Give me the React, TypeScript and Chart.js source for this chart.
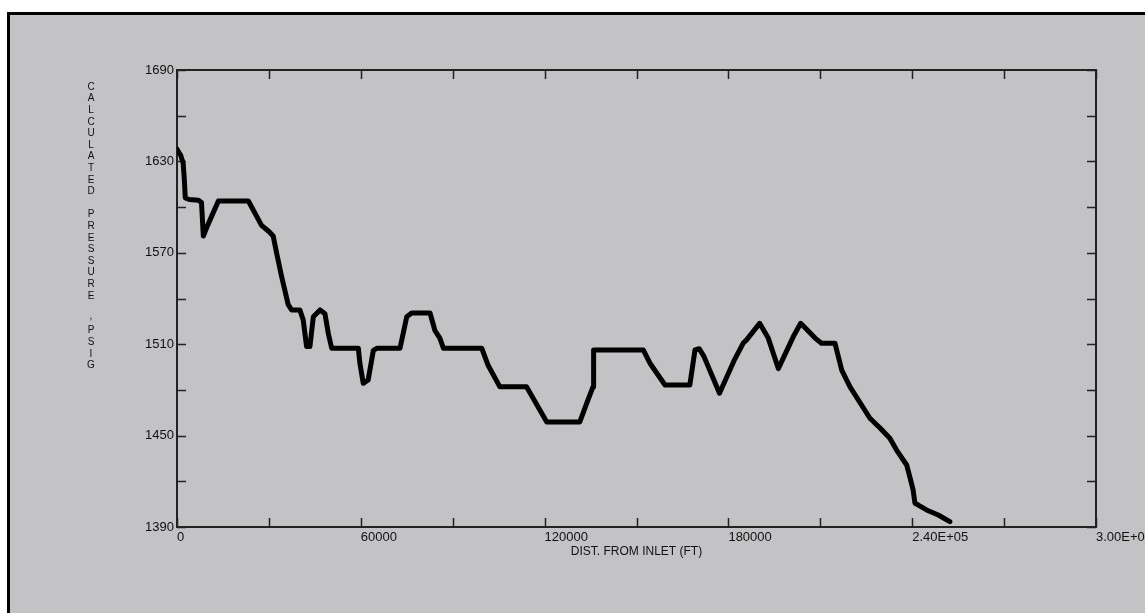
import React, { useEffect, useRef } from 'react';
import { Chart, registerables } from 'chart.js';

Chart.register(...registerables);

// Distance from inlet (ft)
const distFt = [
  0, 1200, 2000, 2400, 2700, 4000, 7000, 8000, 8600, 10000,
  13500, 23300, 27600, 30000, 31400, 32500, 34200, 36300, 37400, 40100,
  41200, 42300, 43400, 44500, 46700, 48300, 49400, 50500, 59200, 59700,
  60800, 62400, 64100, 65200, 72800, 75000, 76600, 82600, 84200, 85800,
  87000, 99500, 101600, 105400, 114100, 120700, 131500, 133700, 135800, 136000,
  152200, 154400, 159300, 167400, 169100, 170500, 172000, 177100, 181800, 184800,
  186000, 190200, 193000, 196300, 201200, 203600, 208300, 210400, 214800, 217000,
  219700, 226200, 229500, 232700, 234900, 238200, 239200, 240300, 240900, 242000,
  244700, 248500, 252300,
];

// Calculated pressure (psig)
const pressurePsig = [
  1638, 1634, 1629, 1618, 1606, 1605, 1604.5, 1603, 1581, 1588,
  1604, 1604, 1588, 1584, 1581, 1570, 1554, 1536, 1532.5, 1532.5,
  1526, 1508.5, 1508.5, 1528, 1532.5, 1530, 1517, 1507.3, 1507.3, 1497.5,
  1484.3, 1486.5, 1506, 1507.3, 1507.3, 1528, 1530.5, 1530.5, 1519, 1514,
  1507.3, 1507.3, 1496, 1482, 1482, 1459, 1459, 1471, 1482, 1506.2,
  1506.2, 1497.5, 1483.2, 1483.2, 1506.2, 1507, 1502, 1477.8, 1499, 1510.6,
  1513, 1523.7, 1514, 1494, 1515, 1523.7, 1514, 1510.6, 1510.6, 1493,
  1482, 1461.4, 1455, 1448.2, 1440.5, 1430.7, 1423, 1414.3, 1405.6, 1404.4,
  1401.2, 1397.9, 1393.5,
];

const xTickValues = [0, 30000, 60000, 90000, 120000, 150000, 180000, 210000, 240000, 270000, 300000];
const xTickLabels = ['0', '', '60000', '', '120000', '', '180000', '', '2.40E+05', '', '3.00E+05'];

const yTickValues = [1390, 1420, 1450, 1480, 1510, 1540, 1570, 1600, 1630, 1660, 1690];
const yTickLabels = ['1390', '', '1450', '', '1510', '', '1570', '', '1630', '', '1690'];

const xTitle = 'DIST. FROM INLET (FT)';
const yTitle = 'CALCULATED PRESSURE ,PSIG';

const FONT = '"Liberation Sans", Arial, sans-serif';
const GRAY = '#c3c2c4';

const framePlugin = {
  id: 'framePlugin',
  beforeDraw(chart: any) {
    const ctx = chart.ctx;
    const w = chart.width;
    const h = chart.height;
    ctx.save();
    ctx.fillStyle = '#ffffff';
    ctx.fillRect(0, 0, w, h);
    ctx.fillStyle = '#000000';
    ctx.fillRect(7, 12, w, h);
    ctx.fillStyle = GRAY;
    ctx.fillRect(10, 15, w, h);
    ctx.restore();
  },
  beforeDatasetsDraw(chart: any) {
    const ctx = chart.ctx;
    const { left, right, top, bottom } = chart.chartArea;
    const xs = chart.scales.x;
    const ys = chart.scales.y;
    ctx.save();
    ctx.strokeStyle = '#222222';
    ctx.lineWidth = 2;
    ctx.strokeRect(left, top, right - left, bottom - top);
    ctx.lineWidth = 1.5;
    ctx.beginPath();
    const tl = 9;
    xTickValues.forEach((v) => {
      const px = Math.round(xs.getPixelForValue(v)) + 0.5;
      ctx.moveTo(px, bottom);
      ctx.lineTo(px, bottom - tl);
      ctx.moveTo(px, top);
      ctx.lineTo(px, top + tl);
    });
    yTickValues.forEach((v) => {
      const py = Math.round(ys.getPixelForValue(v)) + 0.5;
      ctx.moveTo(left, py);
      ctx.lineTo(left + tl, py);
      ctx.moveTo(right, py);
      ctx.lineTo(right - tl, py);
    });
    ctx.stroke();

    // axis titles
    ctx.fillStyle = '#111111';
    ctx.textAlign = 'center';
    ctx.textBaseline = 'middle';
    ctx.font = `12px ${FONT}`;
    ctx.fillText(xTitle, (left + right) / 2, bottom + 25);

    ctx.font = `10px ${FONT}`;
    const letters = yTitle.split('');
    letters.forEach((ch, i) => {
      if (ch === ' ') return;
      const cy = 87 + i * 11.6;
      if (ch === ',') {
        ctx.fillText(ch, 91, cy - 3);
      } else {
        ctx.fillText(ch, 91, cy);
      }
    });
    ctx.restore();
  },
};

export default function App() {
  const canvasRef = useRef<HTMLCanvasElement | null>(null);

  useEffect(() => {
    document.body.style.margin = '0';
    const canvas = canvasRef.current;
    if (!canvas) return;
    const points = distFt.map((x, i) => ({ x, y: pressurePsig[i] }));
    const chart = new Chart(canvas, {
      type: 'scatter',
      data: {
        datasets: [
          {
            data: points,
            showLine: true,
            borderColor: '#000000',
            backgroundColor: '#000000',
            borderWidth: 5,
            borderJoinStyle: 'round',
            borderCapStyle: 'round',
            pointRadius: 0,
            pointHoverRadius: 0,
            tension: 0,
          } as any,
        ],
      },
      options: {
        responsive: false,
        animation: false,
        devicePixelRatio: 1,
        events: [],
        layout: { padding: { top: 70, right: 49, left: 0, bottom: 0 } },
        plugins: {
          legend: { display: false },
          tooltip: { enabled: false },
        },
        scales: {
          x: {
            type: 'linear',
            min: 0,
            max: 300000,
            ticks: {
              stepSize: 30000,
              autoSkip: false,
              maxRotation: 0,
              minRotation: 0,
              align: 'start',
              padding: 3,
              color: '#111111',
              font: { family: FONT, size: 13 },
              callback: (value: any) => {
                const idx = xTickValues.indexOf(Number(value));
                return idx >= 0 ? xTickLabels[idx] : '';
              },
            },
            grid: { display: false, drawTicks: false },
            border: { display: false },
            afterFit: (s: any) => {
              s.height = 86;
              s.paddingLeft = 0;
              s.paddingRight = 0;
            },
          },
          y: {
            type: 'linear',
            min: 1390,
            max: 1690,
            ticks: {
              stepSize: 30,
              autoSkip: false,
              padding: 3,
              color: '#111111',
              font: { family: FONT, size: 13 },
              callback: (value: any) => {
                const idx = yTickValues.indexOf(Number(value));
                return idx >= 0 ? yTickLabels[idx] : '';
              },
            },
            grid: { display: false, drawTicks: false },
            border: { display: false },
            afterFit: (s: any) => {
              s.width = 177;
              s.paddingTop = 0;
              s.paddingBottom = 0;
            },
          },
        },
      } as any,
      plugins: [framePlugin],
    });
    return () => chart.destroy();
  }, []);

  return (
    <canvas
      ref={canvasRef}
      width={1145}
      height={613}
      style={{ display: 'block', width: 1145, height: 613 }}
    />
  );
}
